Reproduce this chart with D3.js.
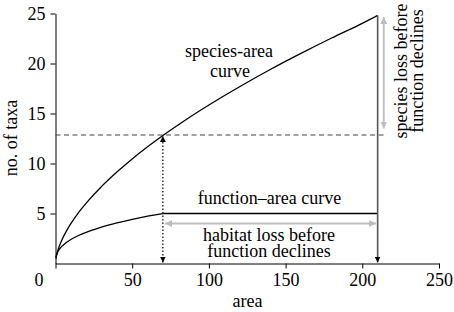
<!DOCTYPE html>
<html><head><meta charset="utf-8">
<script src="https://cdn.jsdelivr.net/npm/d3@7"></script>
<style>
html,body{margin:0;padding:0;background:#fff;}
</style></head>
<body><svg id="c" width="454" height="312"></svg>
<script>
// ---- data ----
const xTicks = [0, 50, 100, 150, 200, 250];
const yTicks = [5, 10, 15, 20, 25];
const speciesArea = [0.3, 1, 2, 4, 7, 10, 15, 20, 30, 40, 50, 60, 70, 85, 100, 120, 140, 160, 180, 200, 210];
const speciesTaxa = [0.49, 1.0, 1.52, 2.30, 3.21, 3.98, 5.08, 6.03, 7.70, 9.15, 10.46, 11.67, 12.80, 14.38, 15.85, 17.68, 19.40, 21.01, 22.55, 24.02, 24.8];
const functionArea = [0.3, 1, 2, 4, 7, 10, 15, 20, 30, 40, 50, 60, 70];
const functionTaxa = [0.63, 1.0, 1.30, 1.69, 2.09, 2.40, 2.80, 3.12, 3.64, 4.06, 4.42, 4.74, 5.0];
const plateauArea = [70, 210];
const plateauTaxa = [5.0, 5.0];
const thresholdArea = 70;      // area where function starts to decline
const maxArea = 210;           // full habitat area
const thresholdTaxa = 12.85;   // species count where function declines
const maxTaxa = 24.8;

const FONT = '"Liberation Serif"';
const svg = d3.select("#c");
const x = d3.scaleLinear().domain([0, 250]).range([55.5, 439]);
const y = d3.scaleLinear().domain([0, 25]).range([263.5, 13.5]);

// markers
const defs = svg.append("defs");
function marker(id, color, size) {
  const m = defs.append("marker").attr("id", id)
    .attr("viewBox", "0 0 10 10").attr("refX", 10).attr("refY", 5)
    .attr("markerUnits", "userSpaceOnUse")
    .attr("markerWidth", size).attr("markerHeight", size)
    .attr("orient", "auto-start-reverse");
  m.append("path").attr("d", "M0,0 L10,5 L0,10 z").attr("fill", color);
}
marker("ak", "#000", 6);
marker("ag", "#bdbdbd", 7);

// axes
const gx = svg.append("g").attr("transform", `translate(0,${y(0)})`)
  .call(d3.axisBottom(x).tickValues(xTicks).tickSize(5).tickSizeOuter(0).tickPadding(5));
const gy = svg.append("g").attr("transform", `translate(${x(0)},0)`)
  .call(d3.axisLeft(y).tickValues(yTicks).tickSize(5).tickSizeOuter(0).tickPadding(5));
[gx, gy].forEach(g => {
  g.attr("font-family", FONT).attr("font-size", 18);
  g.select(".domain").attr("stroke", "#000").attr("stroke-width", 1);
  g.selectAll(".tick line").attr("stroke", "#000");
  g.selectAll(".tick text").style("font-family", FONT).style("font-size", "18px").attr("fill", "#000");
});
gx.selectAll(".tick text").attr("dx", function(d){ return d === 0 ? "-0.95em" : 0; });

// dashed threshold line
svg.append("line").attr("x1", x(0)).attr("x2", x(216)).attr("y1", y(thresholdTaxa)).attr("y2", y(thresholdTaxa))
  .attr("stroke", "#444").attr("stroke-width", 1.2).attr("stroke-dasharray", "5,3.5");

// curves
const line = d3.line().x(d => x(d[0])).y(d => y(d[1])).curve(d3.curveMonotoneX);
svg.append("path").datum(d3.zip(speciesArea, speciesTaxa)).attr("d", line)
  .attr("fill", "none").attr("stroke", "#000").attr("stroke-width", 1.3);
svg.append("path").datum(d3.zip(functionArea, functionTaxa)).attr("d", line)
  .attr("fill", "none").attr("stroke", "#000").attr("stroke-width", 1.3);
svg.append("path").datum(d3.zip(plateauArea, plateauTaxa)).attr("d", d3.line().x(d => x(d[0])).y(d => y(d[1])))
  .attr("fill", "none").attr("stroke", "#000").attr("stroke-width", 1.3);

// dotted vertical at threshold (arrows both ends)
svg.append("line").attr("x1", x(thresholdArea)).attr("x2", x(thresholdArea))
  .attr("y1", y(0) - 1).attr("y2", y(thresholdTaxa) + 1)
  .attr("stroke", "#000").attr("stroke-width", 1.2).attr("stroke-dasharray", "1.5,2")
  .attr("marker-start", "url(#ak)").attr("marker-end", "url(#ak)");

// solid vertical at max area
svg.append("line").attr("x1", x(maxArea)).attr("x2", x(maxArea))
  .attr("y1", y(maxTaxa)).attr("y2", y(0) - 1)
  .attr("stroke", "#555").attr("stroke-width", 1.6)
  .attr("marker-end", "url(#ak)");

// light grey double arrows
svg.append("line").attr("x1", x(71.5)).attr("x2", x(209)).attr("y1", y(4.0)).attr("y2", y(4.0))
  .attr("stroke", "#bdbdbd").attr("stroke-width", 1.8)
  .attr("marker-start", "url(#ag)").attr("marker-end", "url(#ag)");
svg.append("line").attr("x1", x(214)).attr("x2", x(214)).attr("y1", y(24.65)).attr("y2", y(13.5))
  .attr("stroke", "#bdbdbd").attr("stroke-width", 1.8)
  .attr("marker-start", "url(#ag)").attr("marker-end", "url(#ag)");

// texts
function txt(xp, yp, s, rot) {
  const t = svg.append("text").attr("font-family", FONT).style("font-family", FONT).style("font-size", "18px")
    .attr("fill", "#000").attr("text-anchor", "middle").text(s);
  if (rot) t.attr("transform", `translate(${xp},${yp}) rotate(-90)`);
  else t.attr("x", xp).attr("y", yp);
  return t;
}
txt(229, 57, "species-area");
txt(230, 77, "curve");
txt(269.5, 203.5, "function\u2013area curve");
txt(269, 241, "habitat loss before");
txt(269, 256.5, "function declines");
txt(407, 71, "species loss before", true);
txt(423, 71, "function declines", true);
txt(17, 138, "no. of taxa", true);
txt(247.5, 306.5, "area");
</script></body></html>
